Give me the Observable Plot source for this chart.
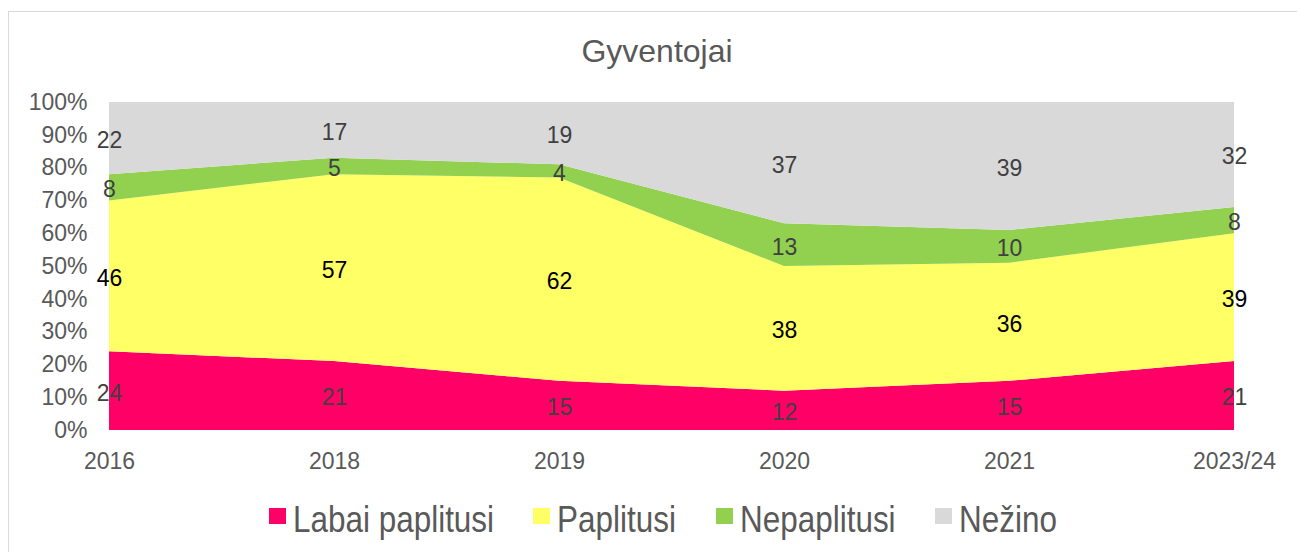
<!DOCTYPE html>
<html>
<head>
<meta charset="utf-8">
<script src="https://cdn.jsdelivr.net/npm/d3@7"></script>
<script src="https://cdn.jsdelivr.net/npm/@observablehq/plot@0.6"></script>
<style>
  body { margin: 0; background: #fff; font-family: "Liberation Sans", Arial, sans-serif; }
  #wrap { position: relative; width: 1297px; height: 552px; overflow: hidden; background: #fff; }
  #chart { position: absolute; left: 0; top: 0; }
  #title { position: absolute; left: 457px; width: 400px; top: 35px; text-align: center;
           font-size: 32px; line-height: 32px; color: #595959; }
  .lg { position: absolute; top: 501px; height: 37px; }
  .sw { position: absolute; left: 0; top: 7px; width: 17px; height: 16px; }
  .lt { position: absolute; left: 24px; top: 0; font-size: 37px; line-height: 37px; color: #595959;
        white-space: nowrap; transform: scaleX(0.85); transform-origin: 0 0; }
  #border { position: absolute; left: 8px; top: 11px; width: 1300px; height: 600px;
            border-left: 1px solid #d9d9d9; border-top: 1px solid #d9d9d9; pointer-events: none; }
</style>
</head>
<body>
<div id="wrap">
  <div id="chart"></div>
  <div id="title">Gyventojai</div>
  <div id="legend"></div>
  <div id="border"></div>
</div>
<script>
const years = ["2016", "2018", "2019", "2020", "2021", "2023/24"];
const seriesNames = ["Labai paplitusi", "Paplitusi", "Nepaplitusi", "Nežino"];
const labaiPaplitusi = [24, 21, 15, 12, 15, 21];
const paplitusi = [46, 57, 62, 38, 36, 39];
const nepaplitusi = [8, 5, 4, 13, 10, 8];
const nezino = [22, 17, 19, 37, 39, 32];
const seriesColors = ["#FF0066", "#FFFF66", "#92D050", "#D9D9D9"];
const labelColors = ["#404040", "#000000", "#404040", "#404040"];
const yTicks = [0, 10, 20, 30, 40, 50, 60, 70, 80, 90, 100];

const seriesValues = [labaiPaplitusi, paplitusi, nepaplitusi, nezino];
const rows = [];
years.forEach((year, i) => {
  let base = 0;
  seriesValues.forEach((vals, s) => {
    const v = vals[i];
    rows.push({year, series: seriesNames[s], value: v, y1: base, y2: base + v, mid: base + v / 2});
    base += v;
  });
});

const plot = Plot.plot({
  width: 1297,
  height: 480,
  marginLeft: 108,
  marginRight: 63,
  marginTop: 102,
  marginBottom: 50,
  style: {fontFamily: "'Liberation Sans', Arial, sans-serif", fontSize: "23px", color: "#595959", background: "transparent", overflow: "visible"},
  x: {type: "point", domain: years, padding: 0},
  y: {domain: [0, 100]},
  color: {domain: seriesNames, range: seriesColors},
  marks: [
    Plot.areaY(rows, {x: "year", y1: "y1", y2: "y2", z: "series", fill: "series"}),
    ...seriesNames.map((name, s) =>
      Plot.text(rows.filter(d => d.series === name), {
        x: "year", y: "mid", text: d => String(d.value),
        fill: labelColors[s], fontSize: 23, dy: 2
      })
    ),
    Plot.axisY({ticks: yTicks, tickFormat: d => d + "%", tickSize: 0, tickPadding: 21, fontSize: 23, label: null}),
    Plot.axisX({tickSize: 0, tickPadding: 22, fontSize: 23, label: null})
  ]
});
document.getElementById("chart").appendChild(plot);

// legend
const legendLefts = [269, 533, 716, 935];
const legend = document.getElementById("legend");
seriesNames.forEach((name, i) => {
  const item = document.createElement("div");
  item.className = "lg";
  item.style.left = legendLefts[i] + "px";
  const sw = document.createElement("div");
  sw.className = "sw";
  sw.style.background = seriesColors[i];
  const t = document.createElement("div");
  t.className = "lt";
  t.textContent = name;
  item.appendChild(sw);
  item.appendChild(t);
  legend.appendChild(item);
});
</script>
</body>
</html>
